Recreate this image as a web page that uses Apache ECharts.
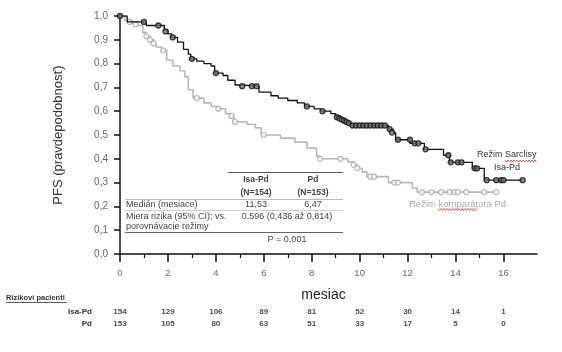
<!DOCTYPE html>
<html>
<head>
<meta charset="utf-8">
<script src="https://cdn.jsdelivr.net/npm/echarts@6/dist/echarts.min.js"></script>
<style>
  html, body { margin: 0; padding: 0; background: #fff; }
  #chart { width: 562px; height: 352px; }
</style>
</head>
<body>
<div id="chart"></div>
<script>
// KM krivky: [mesiac, PFS] (krok na konci)
var isaCurve = [[0, 1.0], [0.3, 0.975], [1.1, 0.96], [1.85, 0.94], [2.0, 0.925], [2.15, 0.91], [2.4, 0.89],
  [2.65, 0.86], [2.85, 0.84], [2.95, 0.82], [3.2, 0.81], [3.5, 0.80], [3.8, 0.79], [3.95, 0.76], [4.3, 0.75],
  [4.5, 0.73], [4.8, 0.71], [5.0, 0.705], [5.8, 0.68], [6.3, 0.665], [6.6, 0.655], [7.0, 0.645], [7.4, 0.635],
  [7.7, 0.62], [8.1, 0.61], [8.4, 0.60], [8.8, 0.59], [9.0, 0.58], [9.2, 0.57], [9.4, 0.555], [9.6, 0.54],
  [11.2, 0.525], [11.4, 0.51], [11.5, 0.48], [12.1, 0.465], [12.7, 0.44], [13.5, 0.415], [13.75, 0.385],
  [14.7, 0.36], [15.2, 0.31], [16.8, 0.31]];
var isaCensor = [[0, 1.0], [1.0, 0.975], [1.6, 0.96], [1.9, 0.935], [2.2, 0.91], [3.0, 0.82], [4.0, 0.76],
  [5.1, 0.705], [5.5, 0.705], [5.7, 0.705], [7.8, 0.62], [8.45, 0.60], [9.05, 0.575], [9.15, 0.57], [9.25, 0.565],
  [9.35, 0.56], [9.45, 0.555], [9.55, 0.55], [9.7, 0.54], [9.85, 0.54], [10.0, 0.54], [10.15, 0.54], [10.3, 0.54],
  [10.45, 0.54], [10.6, 0.54], [10.75, 0.54], [10.9, 0.54], [11.05, 0.54], [11.25, 0.525], [11.35, 0.51],
  [11.6, 0.48], [12.1, 0.48], [12.3, 0.465], [12.45, 0.465], [12.75, 0.44], [13.7, 0.415], [13.8, 0.385],
  [14.1, 0.385], [14.25, 0.385], [14.8, 0.36], [14.9, 0.36], [15.3, 0.31], [15.7, 0.31], [15.9, 0.31],
  [16.0, 0.31], [16.8, 0.31]];
var pdCurve = [[0, 1.0], [0.2, 0.98], [0.5, 0.97], [0.75, 0.96], [0.95, 0.93], [1.1, 0.915], [1.25, 0.90],
  [1.4, 0.885], [1.5, 0.87], [1.75, 0.855], [1.95, 0.815], [2.2, 0.79], [2.5, 0.77], [2.7, 0.745], [2.85, 0.69],
  [3.05, 0.655], [3.5, 0.635], [3.8, 0.62], [4.1, 0.61], [4.4, 0.59], [4.6, 0.58], [4.75, 0.555], [5.3, 0.545],
  [5.65, 0.53], [5.9, 0.50], [6.7, 0.487], [7.3, 0.47], [7.8, 0.445], [8.2, 0.41], [8.35, 0.40], [9.5, 0.387],
  [9.75, 0.375], [9.9, 0.36], [10.1, 0.345], [10.3, 0.325], [11.2, 0.30], [12.2, 0.277], [12.4, 0.26], [15.7, 0.26]];
var pdCensor = [[0.4, 0.975], [0.65, 0.965], [1.1, 0.915], [1.25, 0.90], [1.4, 0.885], [1.8, 0.855], [3.2, 0.655],
  [4.1, 0.61], [4.65, 0.58], [4.8, 0.555], [6.0, 0.50], [8.35, 0.40], [9.2, 0.40], [9.75, 0.375], [9.9, 0.36],
  [10.45, 0.325], [10.6, 0.325], [11.45, 0.30], [11.6, 0.30], [12.6, 0.26], [13.0, 0.26], [13.4, 0.26],
  [13.75, 0.26], [13.95, 0.26], [14.1, 0.26], [14.45, 0.26], [15.2, 0.26], [15.7, 0.26]];

var xTicks = [0, 2, 4, 6, 8, 10, 12, 14, 16];
var xMinorTicks = [1, 3, 5, 7, 9, 11, 13, 15];
var riskGroups = ["Isa-Pd", "Pd"];
var riskIsa = [154, 129, 106, 89, 81, 52, 30, 14, 1];
var riskPd = [153, 105, 80, 63, 51, 33, 17, 5, 0];

var FONT = "Liberation Sans, Arial, sans-serif";

var riskData = [];
xTicks.forEach(function (m, i) {
  riskData.push([m, riskGroups[0], riskIsa[i]]);
  riskData.push([m, riskGroups[1], riskPd[i]]);
});

function txt(text, x, y, opt) {
  opt = opt || {};
  return {
    type: "text",
    silent: true,
    style: {
      text: text, x: x, y: y,
      font: (opt.bold ? "bold " : "") + (opt.size || 9) + "px " + FONT,
      fill: opt.color || "#444",
      textAlign: opt.align || "left",
      textVerticalAlign: "middle"
    }
  };
}
function hline(x1, x2, y, color, w) {
  return {
    type: "line", silent: true,
    shape: { x1: x1, y1: y, x2: x2, y2: y },
    style: { stroke: color, lineWidth: w || 1 }
  };
}
function wave(x1, x2, y) {
  var pts = [];
  for (var x = x1, k = 0; x <= x2; x += 1.5, k++) pts.push([x, y + (k % 2 ? 1 : -1)]);
  return { type: "polyline", silent: true, shape: { points: pts }, style: { stroke: "#e03030", lineWidth: 0.8, fill: null } };
}

var chart = echarts.init(document.getElementById("chart"));
chart.setOption({
  animation: false,
  textStyle: { fontFamily: FONT },
  grid: [
    { left: 120, right: 25, top: 16, height: 238 },
    { left: 120, right: 25, top: 306, height: 24 }
  ],
  xAxis: [
    {
      type: "value", gridIndex: 0, min: 0, max: 17.4,
      name: "mesiac", nameLocation: "middle", nameGap: 34,
      nameTextStyle: { fontSize: 14, color: "#222", padding: [0, 10, 0, 0] },
      axisLine: { show: true, lineStyle: { color: "#111", width: 1.5 } },
      axisTick: { show: true, length: 8, customValues: xTicks, lineStyle: { color: "#111", width: 1.5 } },
      axisLabel: { customValues: xTicks, color: "#666", fontSize: 9.5, margin: 14 },
      splitLine: { show: false }
    },
    {
      type: "value", gridIndex: 0, min: 0, max: 17.4, position: "bottom",
      axisLine: { show: false },
      axisTick: { show: true, length: 4, customValues: xMinorTicks, lineStyle: { color: "#111", width: 1.2 } },
      axisLabel: { show: false },
      splitLine: { show: false }
    },
    { type: "value", gridIndex: 1, min: 0, max: 17.4, show: false }
  ],
  yAxis: [
    {
      type: "value", gridIndex: 0, min: 0, max: 1, interval: 0.1,
      name: "PFS (pravdepodobnosť)", nameLocation: "middle", nameGap: 55,
      nameTextStyle: { fontSize: 13, color: "#333" },
      axisLine: { show: true, lineStyle: { color: "#111", width: 1.5 } },
      axisTick: { show: true, length: 6, lineStyle: { color: "#111", width: 1.5 } },
      axisLabel: {
        color: "#666", fontSize: 10, margin: 12,
        formatter: function (v) { return v.toFixed(1).replace(".", ","); }
      },
      splitLine: { show: false }
    },
    {
      type: "category", gridIndex: 1, data: riskGroups, inverse: true,
      axisLine: { show: false }, axisTick: { show: false },
      axisLabel: { fontWeight: "bold", fontSize: 8, color: "#333", margin: 28 }
    }
  ],
  series: [
    {
      name: "Pd", type: "line", step: "end", data: pdCurve, xAxisIndex: 0, yAxisIndex: 0,
      showSymbol: false, lineStyle: { color: "#b8b8b8", width: 1.6 }, z: 2
    },
    {
      name: "Pd cenz.", type: "scatter", data: pdCensor, xAxisIndex: 0, yAxisIndex: 0,
      symbolSize: 5, itemStyle: { color: "#fff", borderColor: "#a8a8a8", borderWidth: 1.2 }, z: 3
    },
    {
      name: "Isa-Pd", type: "line", step: "end", data: isaCurve, xAxisIndex: 0, yAxisIndex: 0,
      showSymbol: false, lineStyle: { color: "#111", width: 1.3 }, z: 4
    },
    {
      name: "Isa-Pd cenz.", type: "scatter", data: isaCensor, xAxisIndex: 0, yAxisIndex: 0,
      symbolSize: 5, itemStyle: { color: "#777", borderColor: "#111", borderWidth: 1.3 }, z: 5
    },
    {
      name: "Rizikoví pacienti", type: "scatter", data: riskData, xAxisIndex: 2, yAxisIndex: 1,
      symbolSize: 1, itemStyle: { color: "rgba(0,0,0,0)" },
      label: {
        show: true, position: "inside", fontWeight: "bold", fontSize: 8, color: "#222",
        formatter: function (p) { return p.value[2]; }
      }
    }
  ],
  graphic: [
    // tabulka v grafe
    hline(228, 343, 172.5, "#555", 1.2),
    txt("Isa-Pd", 256, 180, { bold: true, size: 8.5, align: "center" }),
    txt("Pd", 313, 180, { bold: true, size: 8.5, align: "center" }),
    txt("(N=154)", 256, 193, { bold: true, size: 8.5, align: "center" }),
    txt("(N=153)", 313, 193, { bold: true, size: 8.5, align: "center" }),
    hline(125, 343, 199.5, "#bbb", 1),
    txt("Medián (mesiace)", 126, 205, {}),
    txt("11,53", 256, 205, { align: "center" }),
    txt("6,47", 313, 205, { align: "center" }),
    hline(125, 343, 210.5, "#ccc", 1),
    txt("Miera rizika (95% CI); vs.", 126, 217, {}),
    txt("0,596 (0,436 až 0,814)", 287, 217, { align: "center" }),
    txt("porovnávacie režimy", 126, 227, {}),
    hline(125, 343, 232.5, "#666", 1.2),
    txt("P = 0,001", 287, 240, { align: "center" }),
    // popisy kriviek
    txt("Režim Sarclisy", 477, 155, { size: 9, color: "#333" }),
    wave(505, 537, 161),
    txt("Isa-Pd", 507, 168, { size: 9, color: "#333", align: "center" }),
    txt("Režim komparátora Pd", 409, 204, { size: 9.5, color: "#a8a8a8" }),
    wave(438, 478, 209.5),
    // tabulka rizika
    txt("Rizikoví pacienti", 6, 298, { bold: true, size: 7.5, color: "#333" }),
    hline(6, 67, 302.5, "#333", 0.8)
  ]
});
</script>
</body>
</html>
